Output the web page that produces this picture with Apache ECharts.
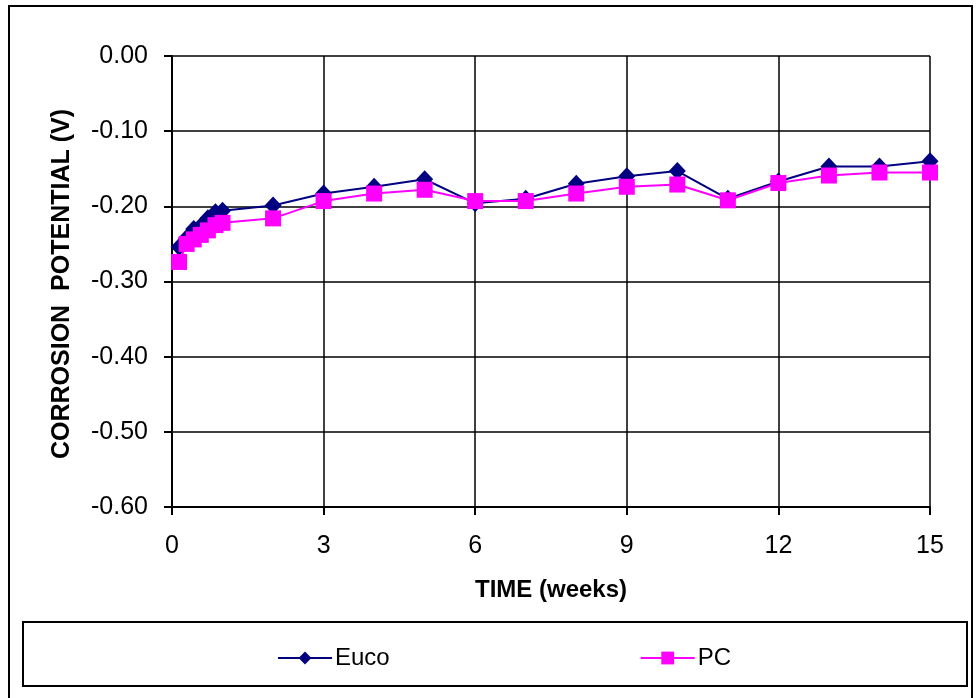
<!DOCTYPE html>
<html><head><meta charset="utf-8">
<script src="https://cdn.jsdelivr.net/npm/echarts@6/dist/echarts.min.js"></script>
<style>html,body{margin:0;padding:0;background:#fff}#c{width:976px;height:698px}</style>
</head><body><div id="c"></div>
<script>
const weeks = [0.14,0.29,0.43,0.57,0.71,0.86,1,2,3,4,5,6,7,8,9,10,11,12,13,14,15];
const euco = [-0.254,-0.242,-0.230,-0.226,-0.216,-0.208,-0.206,-0.199,-0.183,-0.174,-0.164,-0.196,-0.190,-0.170,-0.160,-0.153,-0.190,-0.167,-0.147,-0.147,-0.140];
const pc = [-0.274,-0.250,-0.244,-0.238,-0.232,-0.225,-0.222,-0.216,-0.193,-0.183,-0.178,-0.193,-0.193,-0.183,-0.174,-0.171,-0.192,-0.169,-0.159,-0.155,-0.155];
const seriesNames = ['Euco','PC'];
const xTitle = 'TIME (weeks)';
const yTitle = 'CORROSION  POTENTIAL (V)';

const F = '"Liberation Sans", Arial, sans-serif';
const chart = echarts.init(document.getElementById('c'), null, {renderer:'canvas'});
chart.setOption({
  animation:false,
  backgroundColor:'#fff',
  graphic:[
    {type:'rect', shape:{x:9,y:6,width:963,height:700}, style:{fill:'none',stroke:'#000',lineWidth:2}, z:-1},
    {type:'rect', shape:{x:23,y:622,width:944,height:64}, style:{fill:'#fff',stroke:'#000',lineWidth:2}, z:-1},
    {type:'text', x:62, y:284, rotation:Math.PI/2, style:{text:yTitle, font:'bold 25px '+F, fill:'#000', align:'center', verticalAlign:'middle'}}
  ],
  grid:{left:172,right:46,top:56,bottom:191},
  legend:{
    data:seriesNames, left:272, top:641, itemGap:250, itemWidth:54, itemHeight:16,
    textStyle:{fontFamily:F,fontSize:24,color:'#000',padding:[0,0,0,-2]}
  },
  xAxis:{
    type:'value', min:0, max:15, interval:3,
    name:xTitle, nameLocation:'middle', nameGap:71,
    nameTextStyle:{fontFamily:F,fontSize:24,fontWeight:'bold',color:'#000'},
    axisLine:{onZero:false,lineStyle:{color:'#000',width:2}},
    axisTick:{show:true,length:8,inside:false,lineStyle:{color:'#000',width:2}},
    axisLabel:{fontFamily:F,fontSize:25,color:'#000',margin:27},
    splitLine:{show:true,lineStyle:{color:'#000',width:1.5}}
  },
  yAxis:{
    type:'value', min:-0.6, max:0, interval:0.1,
    axisLine:{show:true,lineStyle:{color:'#000',width:2}},
    axisTick:{show:true,length:8,lineStyle:{color:'#000',width:2}},
    axisLabel:{fontFamily:F,fontSize:25,color:'#000',margin:24,formatter:v=>v.toFixed(2)},
    splitLine:{show:true,lineStyle:{color:'#000',width:1.5}}
  },
  series:[
    {name:seriesNames[0], type:'line', data:weeks.map((w,i)=>[w,euco[i]]), symbol:'diamond', symbolSize:[17,18],
     lineStyle:{color:'#000080',width:2}, itemStyle:{color:'#000080'}, z:2},
    {name:seriesNames[1], type:'line', data:weeks.map((w,i)=>[w,pc[i]]), symbol:'rect', symbolSize:16,
     lineStyle:{color:'#ff00ff',width:2}, itemStyle:{color:'#ff00ff'}, z:3}
  ]
});
</script></body></html>
